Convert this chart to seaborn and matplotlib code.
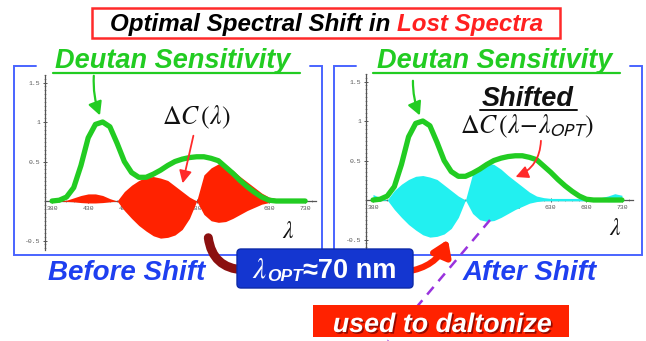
import numpy as np
import pandas as pd
import matplotlib
matplotlib.use("Agg")
import matplotlib.pyplot as plt
import matplotlib.patheffects as pe
import seaborn as sns
from matplotlib.patches import Rectangle, FancyBboxPatch, FancyArrowPatch
from matplotlib.ticker import MultipleLocator

# ---------------- data ----------------
WAVELENGTH = list(range(380, 731, 10))
DEUTAN = [0.00, 0.01, 0.05, 0.17, 0.45, 0.80, 0.97, 1.00, 0.94, 0.73,
          0.50, 0.36, 0.30, 0.30, 0.34, 0.39, 0.45, 0.50, 0.53, 0.55,
          0.56, 0.56, 0.54, 0.51, 0.43, 0.35, 0.26, 0.18, 0.11, 0.05,
          0.01, 0.00, 0.00, 0.00, 0.00, 0.00]

DC_WAVELENGTH = list(range(380, 801, 10))
DC_UPPER = [0.00, 0.00, 0.01, 0.04, 0.07, 0.09, 0.09, 0.07, 0.03, 0.00,
            0.12, 0.20, 0.26, 0.30, 0.31, 0.29, 0.26, 0.19, 0.12, 0.05,
            0.00, 0.33, 0.42, 0.47, 0.45, 0.39, 0.31, 0.24, 0.17, 0.10,
            0.05, 0.03, 0.02, 0.02, 0.02, 0.02, 0.02, 0.02, 0.02, 0.03,
            0.05, 0.08, 0.06]
DC_LOWER = [0.00, 0.00, -0.005, -0.01, -0.02, -0.025, -0.025, -0.02, -0.01, 0.00,
            -0.12, -0.22, -0.31, -0.38, -0.44, -0.47, -0.46, -0.43, -0.36, -0.22,
            0.00, -0.17, -0.25, -0.27, -0.26, -0.22, -0.17, -0.12, -0.08, -0.04,
            -0.02, -0.01, -0.01, -0.01, -0.01, -0.01, -0.01, -0.01, -0.01, -0.01,
            -0.02, -0.02, -0.01]
LAMBDA_OPT = 70

X_TICKS = [380, 430, 480, 530, 580, 630, 680, 730]
X_TICK_LABELS = ["380", "430", "480", "530", "580", "630", "680", "730"]
Y_TICKS = [-0.5, 0.5, 1.0, 1.5]
Y_TICK_LABELS = ["-0.5", "0.5", "1", "1.5"]

TITLE_BLACK = "Optimal Spectral Shift in"
TITLE_RED = "Lost Spectra"
SENS_LABEL = "Deutan Sensitivity"
LEFT_CAPTION = "Before Shift"
RIGHT_CAPTION = "After Shift"
SHIFT_TEXT = "≈70 nm"
DALTON_TEXT = "used to daltonize"

# ---------------- style ----------------
sns.set_style("white")
plt.rcParams['font.family'] = ['Liberation Sans', 'DejaVu Sans']

GREEN = '#22cc22'
RED = '#ff2200'
CYAN = '#22f0f0'
FRAME_BLUE = '#4a64ff'
TEXT_BLUE = '#1e3ff0'
BOX_BLUE = '#1436d0'

W, H = 646, 341
fig = plt.figure(figsize=(W / 100, H / 100), dpi=100)


def px_axes(x0, x1, y_top, y_bot):
    return fig.add_axes([x0 / W, 1 - y_bot / H, (x1 - x0) / W, (y_bot - y_top) / H])


axL = px_axes(44.8, 316.0, 74.6, 250.0)
axR = px_axes(365.9, 632.6, 73.6, 249.0)

dc_x = np.array(DC_WAVELENGTH, dtype=float)
dc_lo = np.array(DC_LOWER)
dc_hi = np.array(DC_UPPER)

for ax, shift, fill_col in ((axL, 0, RED), (axR, LAMBDA_OPT, CYAN)):
    ax.set_xlim(370, 745)
    ax.set_ylim(-0.62, 1.6)
    ax.patch.set_alpha(0)
    xs = dc_x - shift
    mask = (xs >= 380) & (xs <= 735)
    ax.fill_between(xs, dc_lo, dc_hi, where=mask, color=fill_col, lw=0, zorder=3)
    sns.lineplot(x=WAVELENGTH, y=DEUTAN, ax=ax, color=GREEN, linewidth=3.8,
                 legend=False, zorder=4)
    ax.set_xlabel("")
    ax.set_ylabel("")
    for s in ('top', 'right'):
        ax.spines[s].set_visible(False)
    ax.spines['bottom'].set_position(('data', 0))
    for s in ('left', 'bottom'):
        ax.spines[s].set_color('#555555')
        ax.spines[s].set_linewidth(0.9)
    ax.set_xticks(X_TICKS)
    ax.set_xticklabels(X_TICK_LABELS)
    ax.set_yticks(Y_TICKS)
    ax.set_yticklabels(Y_TICK_LABELS)
    ax.xaxis.set_minor_locator(MultipleLocator(10))
    ax.yaxis.set_minor_locator(MultipleLocator(0.05))
    ax.tick_params(axis='both', which='major', direction='inout', length=3.5,
                   width=0.7, color='#555555', labelsize=4.6, labelcolor='#555555',
                   pad=1.5)
    ax.tick_params(axis='both', which='minor', direction='inout', length=1.8,
                   width=0.5, color='#777777')
    ax.tick_params(axis='x', which='both', bottom=True)
    ax.tick_params(axis='y', which='both', left=True)
    for lab in ax.get_xticklabels() + ax.get_yticklabels():
        lab.set_family('Liberation Mono')

# ---------------- overlay for annotations ----------------
ov = fig.add_axes([0, 0, 1, 1])
ov.set_xlim(0, W)
ov.set_ylim(H, 0)
ov.axis('off')
ov.set_zorder(10)

bi = dict(fontweight='bold', fontstyle='italic')

# title
ov.add_patch(Rectangle((92, 8), 468, 30, fill=False, ec='#ff2a2a', lw=1.8))
t_black = ov.text(110, 31, TITLE_BLACK, ha='left', va='baseline', fontsize=17.4,
                  color='black', **bi)
ov.annotate(TITLE_RED, xy=(1, 0), xycoords=t_black, xytext=(4.8, 0),
            textcoords='offset points', ha='left', va='bottom', fontsize=17.4,
            color='#ff2020', **bi)

# blue panel brackets
for (x0, x1) in ((14, 322), (334, 642)):
    ov.plot([x0 + 22, x0, x0, x1, x1, x1 - 12],
            [66, 66, 255, 255, 66, 66], color=FRAME_BLUE, lw=1.4,
            solid_joinstyle='miter', zorder=1)

# Deutan Sensitivity labels and arrows
for cx, (ux0, ux1), (ax0, ay0, ax1, ay1) in (
        (173, (53, 300), (94, 73, 101, 118)),
        (495, (373, 620), (413, 78, 421, 118))):
    ov.text(cx, 68, SENS_LABEL, ha='center', va='baseline', fontsize=19.5,
            color=GREEN, **bi)
    ov.plot([ux0, ux1], [72.5, 72.5], color=GREEN, lw=1.6)
    ov.add_patch(FancyArrowPatch((ax0, ay0), (ax1, ay1),
                                 connectionstyle='arc3,rad=0.12',
                                 arrowstyle='-|>,head_length=5,head_width=2.6',
                                 color=GREEN, lw=1.6, mutation_scale=1.6))

# Delta C labels
ov.text(196, 117, r'$\Delta C\,(\lambda)$', ha='center', va='center',
        fontsize=18.5, color='#111111', math_fontfamily='stix')
ov.add_patch(FancyArrowPatch((194, 133), (182, 186),
                             arrowstyle='-|>,head_length=5,head_width=2.5',
                             color='#ff2a2a', lw=1.3, mutation_scale=1.5))

ov.text(528, 106, "Shifted", ha='center', va='baseline', fontsize=19.5,
        color='#111111', **bi)
ov.plot([480, 577], [109.5, 109.5], color='#111111', lw=1.4)
ov.text(527, 126, r'$\Delta C\,(\lambda\!-\!\lambda_{\mathsf{OPT}})$', ha='center',
        va='center', fontsize=18.5, color='#111111', math_fontfamily='stix')
ov.add_patch(FancyArrowPatch((541, 138), (513, 178),
                             connectionstyle='arc3,rad=-0.35',
                             arrowstyle='-|>,head_length=5,head_width=2.5',
                             color='#ff2a2a', lw=1.3, mutation_scale=1.5))

# lambda axis labels
ov.text(288, 232, r'$\lambda$', ha='center', va='center', fontsize=17,
        color='#111111', math_fontfamily='stix')
ov.text(615, 229, r'$\lambda$', ha='center', va='center', fontsize=17,
        color='#111111', math_fontfamily='stix')

# captions
ov.text(127, 273, LEFT_CAPTION, ha='center', va='center', fontsize=20,
        color=TEXT_BLUE, **bi)
ov.text(530, 273, RIGHT_CAPTION, ha='center', va='center', fontsize=20,
        color=TEXT_BLUE, **bi)

# curved arrows around the shift box
ov.add_patch(FancyArrowPatch((208, 235), (246, 270),
                             connectionstyle='arc3,rad=0.45', arrowstyle='-',
                             color='#8b1010', lw=6.5, zorder=2))
ov.add_patch(FancyArrowPatch((404, 272), (449, 237),
                             connectionstyle='arc3,rad=0.3',
                             arrowstyle='-|>,head_length=9,head_width=6',
                             color=RED, lw=4.5, mutation_scale=1, zorder=2))

# shift box
ov.add_patch(FancyBboxPatch((237, 249), 176, 39,
                            boxstyle='round,pad=0,rounding_size=4',
                            fc=BOX_BLUE, ec='#0d2aa8', lw=1, zorder=3))
ov.text(252, 277, r'$\lambda$', ha='left', va='baseline', fontsize=21,
        color='white', math_fontfamily='stix', zorder=4)
t_opt = ov.text(267, 281, "OPT", ha='left', va='baseline', fontsize=12.5,
                color='white', zorder=4, **bi)
ov.annotate(SHIFT_TEXT, xy=(1, 0), xycoords=t_opt, xytext=(0, 0),
            textcoords='offset points', ha='left', va='bottom',
            fontsize=19.5, color='white', fontweight='bold', zorder=4)

# dashed purple line and daltonize box
ov.plot([490, 388], [220, 341], color='#9933dd', lw=1.8, dashes=(4, 3), zorder=2)
ov.add_patch(Rectangle((313, 305), 256, 32, fc=RED, ec='none', zorder=3))
ov.text(442, 332, DALTON_TEXT, ha='center', va='baseline', fontsize=19.3,
        color='white', zorder=4,
        path_effects=[pe.withSimplePatchShadow(offset=(1.2, -1.2),
                                               shadow_rgbFace='#6a0000', alpha=0.7)],
        **bi)

fig.savefig("out.png", dpi=100)
